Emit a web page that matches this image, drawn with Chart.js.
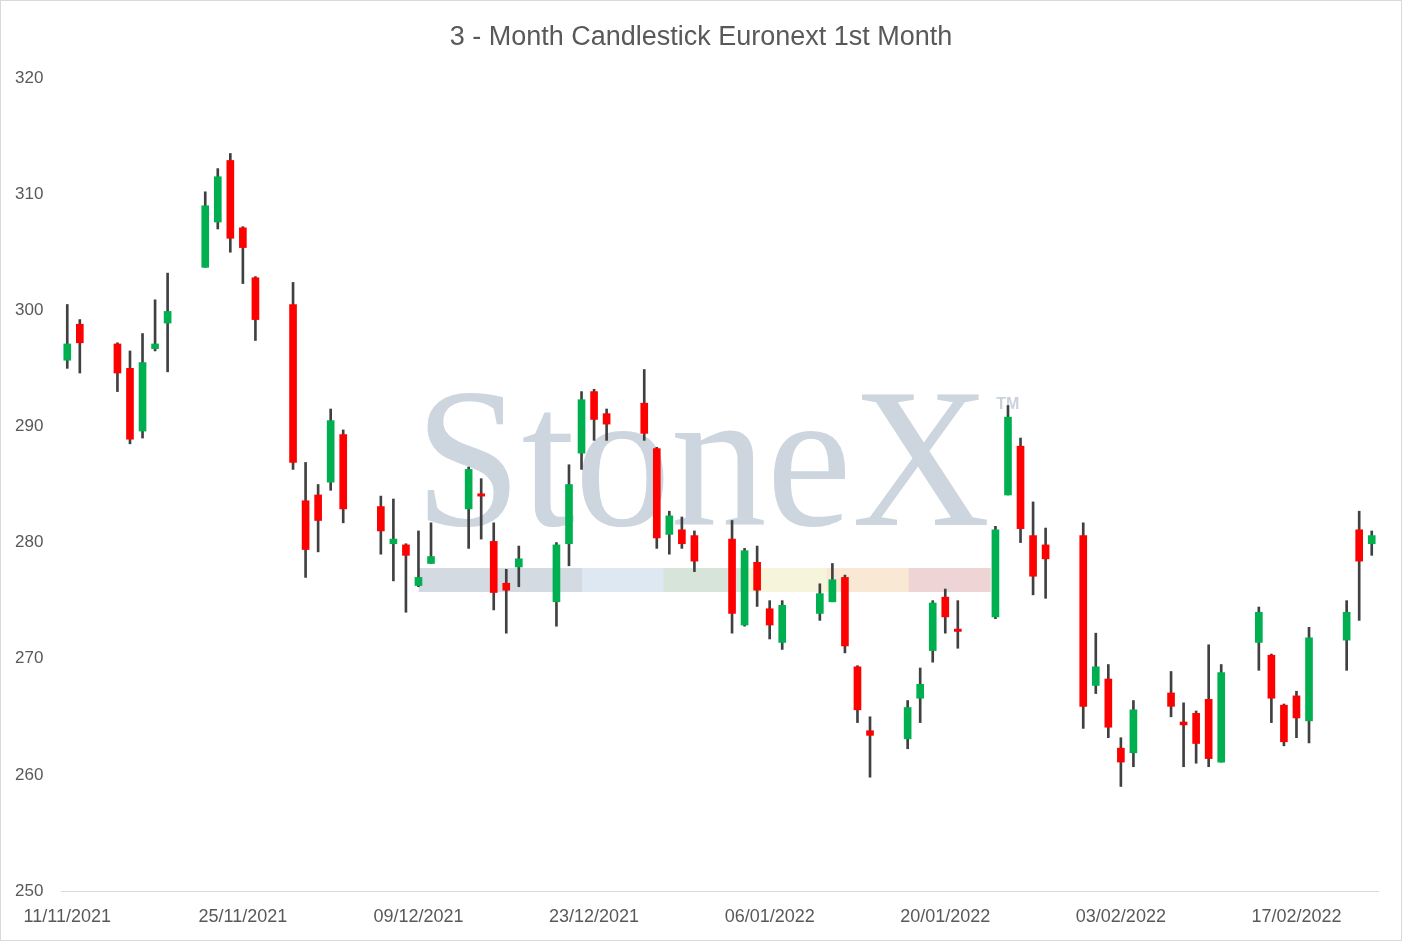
<!DOCTYPE html>
<html>
<head>
<meta charset="utf-8">
<script src="https://cdn.jsdelivr.net/npm/chart.js@4.4.1/dist/chart.umd.min.js"></script>
<style>
  html, body { margin: 0; padding: 0; background: #ffffff; }
  #wrap { width: 1402px; height: 941px; box-sizing: border-box; border: 1px solid #d9d9d9; background: #ffffff; }
  #c { display: block; }
</style>
</head>
<body>
<div id="wrap"><canvas id="c" width="1400" height="939"></canvas></div>
<script>
const chartTitle = '3 - Month Candlestick Euronext 1st Month';

const dates = [
  '11/11/2021','12/11/2021','15/11/2021','16/11/2021','17/11/2021','18/11/2021','19/11/2021',
  '22/11/2021','23/11/2021','24/11/2021','25/11/2021','26/11/2021',
  '29/11/2021','30/11/2021','01/12/2021','02/12/2021','03/12/2021',
  '06/12/2021','07/12/2021','08/12/2021','09/12/2021','10/12/2021',
  '13/12/2021','14/12/2021','15/12/2021','16/12/2021','17/12/2021',
  '20/12/2021','21/12/2021','22/12/2021','23/12/2021','24/12/2021',
  '27/12/2021','28/12/2021','29/12/2021','30/12/2021','31/12/2021',
  '03/01/2022','04/01/2022','05/01/2022','06/01/2022','07/01/2022',
  '10/01/2022','11/01/2022','12/01/2022','13/01/2022','14/01/2022',
  '17/01/2022','18/01/2022','19/01/2022','20/01/2022','21/01/2022',
  '24/01/2022','25/01/2022','26/01/2022','27/01/2022','28/01/2022',
  '31/01/2022','01/02/2022','02/02/2022','03/02/2022','04/02/2022',
  '07/02/2022','08/02/2022','09/02/2022','10/02/2022','11/02/2022',
  '14/02/2022','15/02/2022','16/02/2022','17/02/2022','18/02/2022',
  '21/02/2022','22/02/2022','23/02/2022'
];

const openV = [
  295.7,298.8,297.1,295.0,289.6,296.7,298.9,
  303.7,307.6,312.9,307.1,302.8,
  300.5,283.6,284.1,285.2,289.3,
  283.1,279.9,279.8,276.3,278.2,
  282.9,284.2,280.1,276.5,277.9,
  274.9,279.9,287.7,293.0,291.1,
  292.0,288.1,280.7,281.1,280.6,
  280.3,272.9,278.3,274.3,271.4,
  273.9,274.9,277.0,269.3,263.8,
  263.1,266.6,270.7,275.3,272.55,
  273.6,284.1,288.3,280.6,279.8,
  280.6,267.7,268.25,262.3,261.9,
  267.05,264.55,265.3,266.5,261.1,
  271.4,270.3,266.0,266.8,264.65,
  271.6,281.1,279.9
];

const highV = [
  300.5,299.2,297.2,296.5,298.0,300.9,303.2,
  310.2,312.2,313.5,307.2,302.9,
  302.4,286.9,285.0,291.5,289.7,
  284.0,283.75,279.9,281.0,281.7,
  286.5,285.5,281.7,277.7,279.7,
  280.0,286.7,293.0,293.2,291.5,
  294.9,288.2,282.7,282.2,281.0,
  281.9,279.5,279.7,275.0,275.0,
  276.45,278.2,277.2,269.4,265.0,
  266.4,269.2,275.0,276.0,275.0,
  281.4,291.8,289.0,283.5,281.25,
  281.7,272.2,269.5,263.2,266.4,
  268.9,266.2,265.5,271.2,269.5,
  274.45,270.4,266.1,267.2,272.7,
  275.0,282.7,281.0
];

const lowV = [
  295.0,294.6,293.0,288.5,289.0,296.5,294.7,
  303.7,307.0,305.0,302.3,297.4,
  286.3,277.0,279.2,284.5,281.7,
  279.0,276.7,274.0,276.2,278.2,
  279.5,280.3,274.2,272.2,276.2,
  272.8,278.0,286.3,288.8,288.8,
  288.8,279.5,279.0,279.5,277.5,
  272.2,272.8,274.5,271.7,270.8,
  273.3,274.9,270.5,264.5,259.8,
  262.25,264.5,269.7,272.2,270.9,
  273.45,284.1,280.0,275.5,275.2,
  264.0,267.0,263.2,259.0,260.7,
  265.0,260.7,261.0,260.7,261.1,
  269.0,264.5,262.5,263.2,262.75,
  269.0,273.3,278.9
];

const closeV = [
  297.1,297.2,294.6,288.9,295.5,297.1,299.9,
  309.0,311.5,306.2,305.4,299.2,
  286.9,279.4,281.9,290.5,282.9,
  281.0,280.3,278.9,277.0,278.8,
  286.3,284.0,275.7,275.9,278.6,
  279.8,285.0,292.3,290.6,290.2,
  289.4,280.4,282.3,279.9,278.4,
  273.9,279.3,275.9,272.9,274.6,
  275.6,276.8,271.1,265.6,263.4,
  265.8,267.8,274.8,273.6,272.35,
  281.1,290.8,281.2,277.1,278.6,
  265.9,269.3,264.1,261.1,265.6,
  265.9,264.3,262.7,261.4,268.8,
  274.0,266.6,262.85,264.9,271.8,
  274.0,278.4,280.6
];

const tickLabels = ['11/11/2021','25/11/2021','09/12/2021','23/12/2021','06/01/2022','20/01/2022','03/02/2022','17/02/2022'];
const yTicks = { min: 250, max: 320, step: 10 };

// Build a continuous calendar-day category axis (date axis, weekends left empty)
function parseD(s) { const p = s.split('/'); return new Date(Date.UTC(+p[2], +p[1] - 1, +p[0])); }
function fmtD(d) {
  const dd = String(d.getUTCDate()).padStart(2, '0');
  const mm = String(d.getUTCMonth() + 1).padStart(2, '0');
  return dd + '/' + mm + '/' + d.getUTCFullYear();
}
const allDays = [];
for (let d = parseD(dates[0]); d <= parseD(dates[dates.length - 1]); d = new Date(d.getTime() + 86400000)) {
  allDays.push(fmtD(d));
}
const bodyData = allDays.map(() => null);
const wickData = allDays.map(() => null);
const bodyColors = allDays.map(() => '#00b050');
dates.forEach((ds, i) => {
  const k = allDays.indexOf(ds);
  bodyData[k] = [openV[i], closeV[i]];
  wickData[k] = [lowV[i], highV[i]];
  bodyColors[k] = closeV[i] >= openV[i] ? '#00b050' : '#ff0000';
});

const watermark = {
  id: 'watermark',
  afterLayout(chart) {
    // centre the title on the full canvas width (as in the reference)
    if (chart.titleBlock) { chart.titleBlock.left = 0; chart.titleBlock.right = chart.width; }
  },
  beforeDatasetsDraw(chart) {
    const { ctx, chartArea: a } = chart;
    const W = a.right - a.left, H = a.bottom - a.top;
    const x0 = a.left + 0.2686 * W, x1 = a.left + 0.7056 * W;
    const base = a.top + 0.5498 * H;
    ctx.save();
    ctx.fillStyle = '#cdd5de';
    ctx.font = '200px "Liberation Serif"';
    ctx.textBaseline = 'alphabetic';
    const tw = ctx.measureText('StoneX').width;
    ctx.translate(x0, base);
    ctx.scale((x1 - x0) / tw, 1);
    ctx.fillText('StoneX', 0, 0);
    ctx.restore();

    ctx.save();
    ctx.fillStyle = '#c9d2dc';
    ctx.font = 'bold 16px "Liberation Sans"';
    ctx.textBaseline = 'top';
    ctx.fillText('TM', x1 + 6, a.top + 0.392 * H);
    ctx.restore();

    const bx0 = a.left + 0.2716 * W;
    const segs = ['#d3dae2', '#d3dae2', '#dde8f2', '#d6e4d9', '#f7f4dc', '#f8e8d4', '#efd4d6'];
    const by = a.top + 0.6027 * H, bh = 0.0295 * H;
    const sw = (x1 - bx0) / segs.length;
    ctx.save();
    segs.forEach((c, i) => { ctx.fillStyle = c; ctx.fillRect(bx0 + i * sw, by, sw + 0.5, bh); });
    ctx.restore();
  }
};

new Chart(document.getElementById('c'), {
  type: 'bar',
  data: {
    labels: allDays,
    datasets: [
      { label: 'Body', data: bodyData, backgroundColor: bodyColors, barThickness: 7, grouped: false, borderWidth: 0, order: 0 },
      { label: 'Range', data: wickData, backgroundColor: '#404040', barThickness: 2, grouped: false, borderWidth: 0, order: 1 }
    ]
  },
  options: {
    responsive: false,
    animation: false,
    layout: { autoPadding: false, padding: { left: 14, right: 23, top: 0, bottom: 0 } },
    plugins: {
      legend: { display: false },
      tooltip: { enabled: false },
      title: {
        display: true,
        text: chartTitle,
        color: '#595959',
        font: { family: '"Liberation Sans"', size: 27, weight: 'normal' },
        padding: { top: 20, bottom: 24.6 }
      }
    },
    scales: {
      x: {
        type: 'category',
        offset: true,
        grid: { display: false, drawTicks: false },
        border: { display: true, color: '#d9d9d9', width: 1 },
        afterFit: function (s) { s.paddingLeft = 0; s.paddingRight = 0; s.height = 49; },
        ticks: {
          autoSkip: false,
          maxRotation: 0,
          minRotation: 0,
          padding: 15,
          color: '#595959',
          font: { family: '"Liberation Sans"', size: 18 },
          callback: function (value) {
            const l = this.getLabelForValue(value);
            return tickLabels.includes(l) ? l : '';
          }
        }
      },
      y: {
        min: yTicks.min,
        max: yTicks.max,
        grid: { display: false, drawTicks: false },
        border: { display: false },
        afterFit: function (s) { s.width = 46; },
        ticks: {
          stepSize: yTicks.step,
          padding: 17,
          crossAlign: 'far',
          color: '#595959',
          font: { family: '"Liberation Sans"', size: 17 }
        }
      }
    }
  },
  plugins: [watermark]
});
</script>
</body>
</html>
